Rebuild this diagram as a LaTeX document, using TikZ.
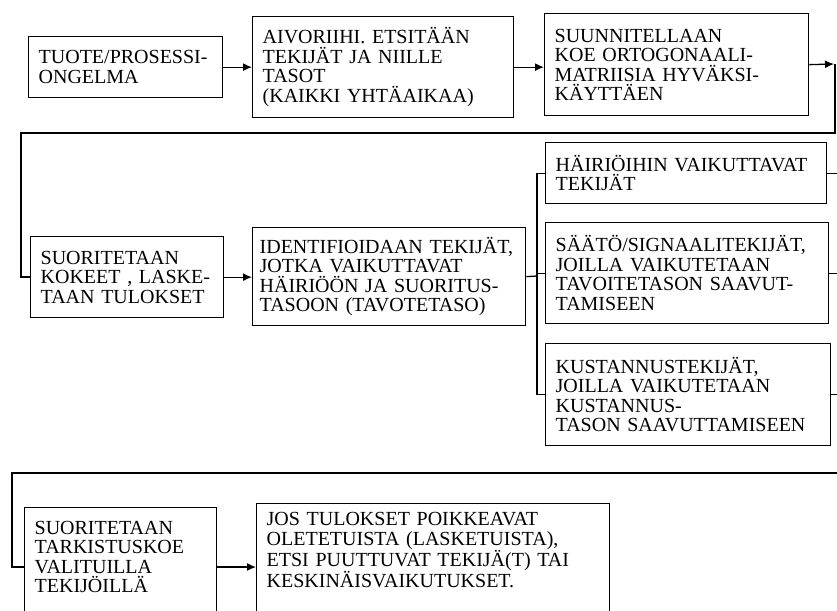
\documentclass[tikz,border=0pt]{standalone}
\usepackage{fontspec}
\setmainfont{Liberation Serif}
\usepackage{tikz}
\usetikzlibrary{arrows.meta}

\begin{document}
\begin{tikzpicture}[x=1pt, y=-1pt,
    box/.style={draw, line width=1.3pt, rectangle, anchor=north west, align=left,
        inner xsep=10pt, inner ysep=0pt, font=\fontsize{20}{19.5}\selectfont},
    link/.style={line width=1.3pt},
    feed/.style={line width=1.8pt},
    tip/.style={-{Latex[length=9pt,width=8pt]}}]
        \useasboundingbox (0,0) rectangle (837,610);
        \fill[white] (0,0) rectangle (837,610);
        \clip (0,0) rectangle (837,610);

        % Define nodes
        \node[box, text width=174pt, minimum height=61pt] (A) at (28,36) {TUOTE/PROSESSI-\\ONGELMA};
        \node[box, text width=241pt, minimum height=101pt] (B) at (252,16) {AIVORIIHI. ETSITÄÄN\\TEKIJÄT JA NIILLE\\TASOT\\(KAIKKI YHTÄAIKAA)};
        \node[box, text width=244pt, minimum height=102pt] (C) at (544,13) {SUUNNITELLAAN\\KOE ORTOGONAALI-\\MATRIISIA HYVÄKSI-\\KÄYTTÄEN};
        \node[box, text width=173pt, minimum height=81pt] (D) at (30,236) {SUORITETAAN\\KOKEET , LASKE-\\TAAN TULOKSET};
        \node[box, inner xsep=7pt, text width=259pt, minimum height=98pt] (E) at (252,227) {IDENTIFIOIDAAN TEKIJÄT,\\JOTKA VAIKUTTAVAT\\HÄIRIÖÖN JA SUORITUS-\\TASOON (TAVOTETASO)};
        \node[box, text width=261pt, minimum height=61pt] (F) at (545,142) {HÄIRIÖIHIN VAIKUTTAVAT\\TEKIJÄT};
        \node[box, text width=263pt, minimum height=101pt] (G) at (545,222) {SÄÄTÖ/SIGNAALITEKIJÄT,\\JOILLA VAIKUTETAAN\\TAVOITETASON SAAVUT-\\TAMISEEN};
        \node[box, text width=265pt, minimum height=102pt] (H) at (545,343) {KUSTANNUSTEKIJÄT,\\JOILLA VAIKUTETAAN\\KUSTANNUS-\\TASON SAAVUTTAMISEEN};
        \node[box, text width=172pt, minimum height=137pt] (I) at (24,507) {SUORITETAAN\\TARKISTUSKOE\\VALITUILLA\\TEKIJÖILLÄ\\ \mbox{}\\ \mbox{}};
        \node[box, text width=333pt, minimum height=132pt] (J) at (256,503) {JOS TULOKSET POIKKEAVAT\\OLETETUISTA (LASKETUISTA),\\ETSI PUUTTUVAT TEKIJÄ(T) TAI\\KESKINÄISVAIKUTUKSET.\\ \mbox{}\\ \mbox{}};

        % Turning points
        \coordinate (rtop) at (835,64);
        \coordinate (ltop) at (21,133);
        \coordinate (bus) at (537,276);
        \coordinate (rbot) at (845,473);
        \coordinate (lbot) at (12,473);
        \coordinate (ij) at (0,567);

        % Connect first row
        \draw[link, tip] (A) -- (B);
        \draw[link, tip] (B.east) -- (C.west |- B.east);
        \draw[link, tip] (C.east) -- ([xshift=-1pt]rtop);
        \draw[feed] (rtop) |- (ltop) |- (D.west);

        % Connect second row
        \draw[link, tip] (D.east) -- (E.west |- D.east);
        \draw[link] (E.east) -- (bus);
        \draw[link] (F.west) -| (bus) |- (H.west);
        \draw[link] (bus |- G.west) -- (G.west);
        \draw[link] (F.east) -- (F.east -| rbot);
        \draw[link] (G.east) -- (G.east -| rbot);
        \draw[link] (H.east) -- (H.east -| rbot);

        % Connect third row
        \draw[feed] (rbot) -- (lbot) |- (I.west |- ij);
        \draw[link, tip] (I.east |- ij) -- (J.west |- ij);
    \end{tikzpicture}
\end{document}
